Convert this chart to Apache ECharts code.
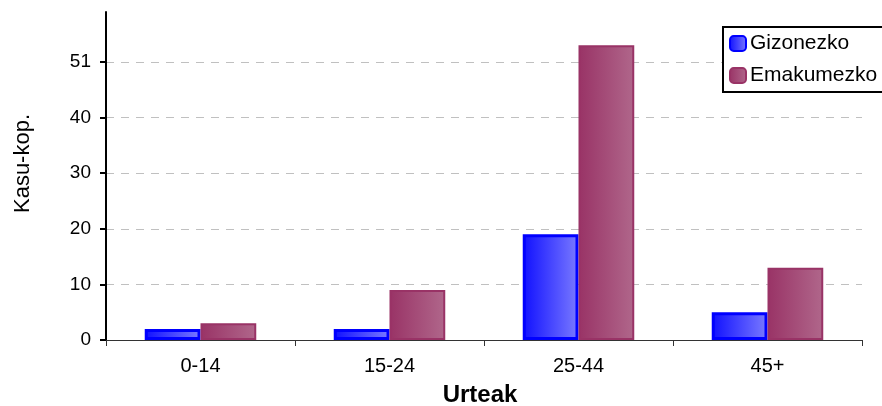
<!DOCTYPE html>
<html>
<head>
<meta charset="utf-8">
<script src="https://cdn.jsdelivr.net/npm/echarts@6/dist/echarts.min.js"></script>
<style>
  html, body { margin: 0; padding: 0; background: #fff; }
  #chart { width: 882px; height: 406px; }
</style>
</head>
<body>
<div id="chart"></div>
<script>
// Age groups on the category axis
const categories = ['0-14', '15-24', '25-44', '45+'];
// Case counts per group
const gizonezko = [2, 2, 19, 5];
const emakumezko = [3, 9, 53, 13];
// Value-axis ticks and the text printed beside them
const yTickValues = [0, 10, 20, 30, 40, 50];
const yTickLabels = ['0', '10', '20', '30', '40', '51'];
const gridValues = [10, 20, 30, 40, 50];

const FONT = '"Liberation Sans", Arial, sans-serif';

function hGrad(a, b) {
  return new echarts.graphic.LinearGradient(0, 0, 1, 0, [
    { offset: 0, color: a },
    { offset: 1, color: b }
  ]);
}

const chart = echarts.init(document.getElementById('chart'), null, { renderer: 'canvas' });

chart.setOption({
  animation: false,
  backgroundColor: '#ffffff',
  textStyle: { fontFamily: FONT },
  grid: { left: 106, right: 20, top: 12, bottom: 66, containLabel: false, outerBoundsMode: 'none' },
  legend: {
    orient: 'vertical',
    left: 723,
    top: 27,
    padding: [6, 16, 6, 6],
    itemGap: 11,
    itemWidth: 16,
    itemHeight: 15,
    icon: 'roundRect',
    borderColor: '#000000',
    borderWidth: 2,
    backgroundColor: '#ffffff',
    textStyle: { fontFamily: FONT, fontSize: 21, color: '#000000', padding: [0, 0, 0, -1] },
    data: ['Gizonezko', 'Emakumezko']
  },
  xAxis: {
    type: 'category',
    data: categories,
    name: 'Urteak',
    nameLocation: 'middle',
    nameGap: 43,
    nameTextStyle: { fontFamily: FONT, fontSize: 24, fontWeight: 'bold', color: '#000000', padding: [0, 8, 0, 0] },
    axisLine: { lineStyle: { color: '#333333', width: 1 } },
    axisTick: { show: true, length: 6, lineStyle: { color: '#333333' } },
    axisLabel: { fontFamily: FONT, fontSize: 20, color: '#000000', margin: 16 },
    splitLine: { show: false }
  },
  yAxis: {
    type: 'value',
    min: 0,
    max: 59,
    interval: 10,
    name: 'Kasu-kop.',
    nameLocation: 'middle',
    nameRotate: 90,
    nameGap: 72,
    nameTextStyle: { fontFamily: FONT, fontSize: 22, color: '#000000', padding: [0, 0, 0, 25] },
    axisLine: { show: true, lineStyle: { color: '#000000', width: 2 } },
    axisTick: { show: true, length: 6, customValues: yTickValues, lineStyle: { color: '#000000', width: 2 } },
    axisLabel: {
      fontFamily: FONT, fontSize: 19, color: '#000000', margin: 15,
      customValues: yTickValues,
      formatter: function (v) {
        const i = yTickValues.indexOf(v);
        return i >= 0 ? yTickLabels[i] : '';
      }
    },
    splitLine: { show: false }
  },
  series: [
    {
      name: 'Gizonezko',
      type: 'bar',
      data: gizonezko,
      barGap: '0%',
      barCategoryGap: '41%',
      itemStyle: { color: hGrad('#1010ff', '#7a7aff'), borderColor: '#0000ff', borderWidth: 3 },
      markLine: {
        silent: true,
        symbol: 'none',
        label: { show: false },
        lineStyle: { color: '#c0c0c0', type: [8, 7], width: 1 },
        z: 0,
        data: gridValues.map(function (v) { return { yAxis: v }; })
      },
      z: 3
    },
    {
      name: 'Emakumezko',
      type: 'bar',
      data: emakumezko,
      barGap: '0%',
      barCategoryGap: '41%',
      itemStyle: { color: hGrad('#993366', '#b0678b'), borderColor: '#993366', borderWidth: 2 },
      z: 3
    }
  ]
});
</script>
</body>
</html>
